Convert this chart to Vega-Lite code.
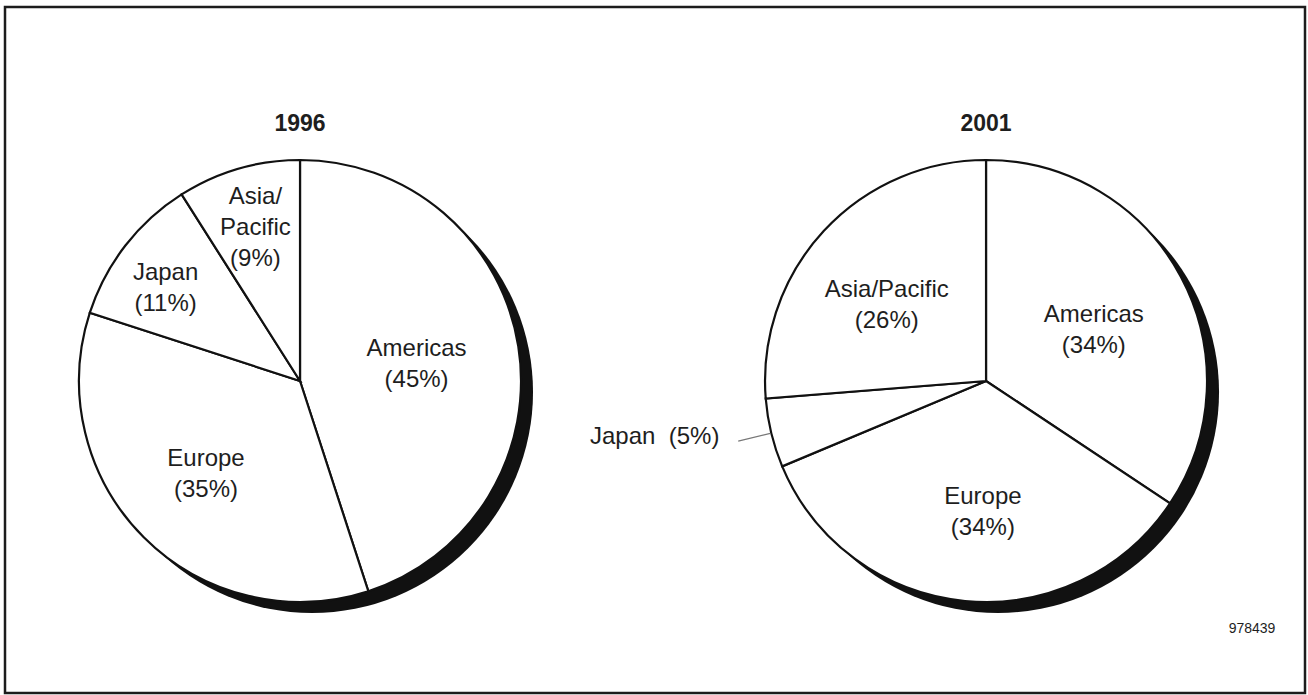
{
  "$schema": "https://vega.github.io/schema/vega-lite/v6.json",
  "width": 1308,
  "height": 695,
  "autosize": {"type": "fit", "contains": "padding"},
  "padding": {"left": 5, "top": 7, "right": 3, "bottom": 2},
  "background": "white",
  "config": {
    "view": {"stroke": "#1c1c1c", "strokeWidth": 2.5},
    "text": {"font": "Liberation Sans", "fontSize": 24, "color": "#1e1e1e", "lineBreak": "\n", "lineHeight": 31}
  },
  "data": {
    "values": [
      {"year": "1996", "region": "Americas", "share": 45, "rank": 1, "label": "Americas\n(45%)"},
      {"year": "1996", "region": "Europe", "share": 35, "rank": 2, "label": "Europe\n(35%)"},
      {"year": "1996", "region": "Japan", "share": 11, "rank": 3, "label": "Japan\n(11%)"},
      {"year": "1996", "region": "Asia/Pacific", "share": 9, "rank": 4, "label": "Asia/\nPacific\n(9%)"},
      {"year": "2001", "region": "Americas", "share": 34, "rank": 1, "label": "Americas\n(34%)"},
      {"year": "2001", "region": "Europe", "share": 34, "rank": 2, "label": "Europe\n(34%)"},
      {"year": "2001", "region": "Japan", "share": 5, "rank": 3, "label": "Japan\u00a0 (5%)"},
      {"year": "2001", "region": "Asia/Pacific", "share": 26, "rank": 4, "label": "Asia/Pacific\n(26%)"}
    ]
  },
  "transform": [
    {"stack": "share", "groupby": ["year"], "sort": [{"field": "rank", "order": "ascending"}], "offset": "normalize", "as": ["t0", "t1"]},
    {"calculate": "(datum.t0 + datum.t1) / 2", "as": "mid"}
  ],
  "encoding": {
    "x": {"field": "year", "type": "nominal", "scale": {"type": "point", "padding": 0.4475, "align": 0.4805}, "axis": null}
  },
  "layer": [
    {
      "transform": [{"filter": "datum.rank == 1"}],
      "mark": {"type": "arc", "theta": 0, "theta2": 6.2832, "radius": 221, "fill": "#111111", "xOffset": 12, "yOffset": 42}
    },
    {
      "mark": {"type": "arc", "radius": 221, "fill": "white", "stroke": "#111111", "strokeWidth": 2.2, "yOffset": 31},
      "encoding": {
        "theta": {"field": "t0", "type": "quantitative", "stack": null, "scale": {"domain": [0, 1], "nice": false, "zero": false}},
        "theta2": {"field": "t1"}
      }
    },
    {
      "transform": [{"filter": "datum.year == '2001' && datum.region == 'Japan'"}],
      "mark": {"type": "arc", "radius": 255, "radius2": 222, "filled": false, "stroke": "#777777", "strokeWidth": 1.2, "yOffset": 31},
      "encoding": {
        "theta": {"field": "mid", "type": "quantitative", "stack": null},
        "theta2": {"field": "mid"}
      }
    },
    {
      "transform": [{"filter": "datum.year == '1996' && datum.region == 'Americas'"}],
      "mark": {"type": "text", "radius": 118, "yOffset": 31, "dy": -14, "align": "center", "baseline": "middle"},
      "encoding": {"theta": {"field": "mid", "type": "quantitative", "stack": null}, "text": {"field": "label"}}
    },
    {
      "transform": [{"filter": "datum.year == '1996' && datum.region == 'Europe'"}],
      "mark": {"type": "text", "radius": 133, "yOffset": 31, "dy": -16, "align": "center", "baseline": "middle"},
      "encoding": {"theta": {"field": "mid", "type": "quantitative", "stack": null}, "text": {"field": "label"}}
    },
    {
      "transform": [{"filter": "datum.year == '1996' && datum.region == 'Japan'"}],
      "mark": {"type": "text", "radius": 160, "yOffset": 31, "dx": -8, "dy": -10, "align": "center", "baseline": "middle"},
      "encoding": {"theta": {"field": "mid", "type": "quantitative", "stack": null}, "text": {"field": "label"}}
    },
    {
      "transform": [{"filter": "datum.year == '1996' && datum.region == 'Asia/Pacific'"}],
      "mark": {"type": "text", "radius": 160, "yOffset": 31, "dy": -30, "align": "center", "baseline": "middle"},
      "encoding": {"theta": {"field": "mid", "type": "quantitative", "stack": null}, "text": {"field": "label"}}
    },
    {
      "transform": [{"filter": "datum.year == '2001' && datum.region == 'Americas'"}],
      "mark": {"type": "text", "radius": 120, "yOffset": 31, "dx": 2, "dy": -9, "align": "center", "baseline": "middle"},
      "encoding": {"theta": {"field": "mid", "type": "quantitative", "stack": null}, "text": {"field": "label"}}
    },
    {
      "transform": [{"filter": "datum.year == '2001' && datum.region == 'Europe'"}],
      "mark": {"type": "text", "radius": 128, "yOffset": 31, "dx": 9, "dy": -11, "align": "center", "baseline": "middle"},
      "encoding": {"theta": {"field": "mid", "type": "quantitative", "stack": null}, "text": {"field": "label"}}
    },
    {
      "transform": [{"filter": "datum.year == '2001' && datum.region == 'Asia/Pacific'"}],
      "mark": {"type": "text", "radius": 127, "yOffset": 31, "dx": -6, "dy": -5, "align": "center", "baseline": "middle"},
      "encoding": {"theta": {"field": "mid", "type": "quantitative", "stack": null}, "text": {"field": "label"}}
    },
    {
      "transform": [{"filter": "datum.year == '2001' && datum.region == 'Japan'"}],
      "mark": {"type": "text", "radius": 262, "yOffset": 31, "dx": -12, "dy": -6, "align": "right", "baseline": "middle"},
      "encoding": {"theta": {"field": "mid", "type": "quantitative", "stack": null}, "text": {"field": "label"}}
    },
    {
      "transform": [{"filter": "datum.rank == 1"}],
      "mark": {"type": "text", "yOffset": -226, "fontSize": 23, "fontWeight": "bold", "align": "center", "baseline": "middle"},
      "encoding": {"text": {"field": "year"}}
    },
    {
      "transform": [{"filter": "datum.year == '2001' && datum.rank == 1"}],
      "mark": {"type": "text", "text": "978439", "xOffset": 266, "yOffset": 279, "fontSize": 14, "letterSpacing": -0.6, "align": "center", "baseline": "middle"}
    }
  ]
}
